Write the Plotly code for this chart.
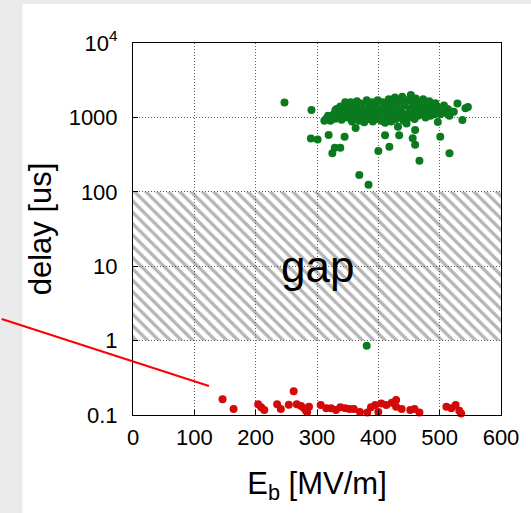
import plotly.graph_objects as go

# ---------------- data ----------------
green_e = [247, 291, 290, 301, 319, 345, 325, 329, 338, 363, 369, 384, 400, 411, 418, 434, 456, 460, 460,
           467, 497, 501, 516, 537, 529, 546, 523, 542, 381, 432, 446,
           312, 315, 318, 322, 325, 328, 330, 333, 336, 338, 340, 342, 345, 347, 349, 351, 353, 355, 357,
           359, 361, 363, 365, 367, 369, 371, 373, 375, 377, 379, 381, 383, 385, 387, 389, 391, 393, 395,
           397, 399, 401, 403, 405, 407, 409, 411, 413, 415, 417, 419, 421, 423, 425, 427, 429, 431, 433,
           435, 437, 439, 441, 443, 445, 447, 449, 451, 453, 455, 457, 459, 461, 463, 465, 467, 469, 471,
           473, 475, 477, 479, 481, 483, 485, 487, 489, 491, 493, 495, 498, 501, 504, 507, 510, 513, 516,
           519, 332, 346, 358, 370, 382, 394, 406, 418, 430, 442, 454, 466, 478, 490, 502, 326, 350, 374,
           398, 422, 448, 472, 496,
           320, 330, 350, 370, 390, 410, 430, 450, 470, 490, 505, 360, 400, 440, 480, 380, 420, 460, 500, 345]
green_delay = [1590, 1260, 520, 505, 580, 551, 330, 392, 392, 720, 168, 124, 353, 574, 403, 575, 524, 676, 430,
               262, 870, 551, 330, 923, 1540, 1380, 1190, 1330, 0.85, 750, 830,
               900, 960, 1050, 900, 1000, 1120, 960, 1200, 1050, 1400, 930, 1150, 1250, 1480, 1000, 1300, 1100, 1600, 880,
               1200, 1450, 1000, 1650, 1150, 900, 1300, 1500, 1050, 860, 1250, 1700, 950, 1400, 1100, 1550, 880, 1200, 1450,
               950, 1700, 1050, 1300, 900, 1600, 1150, 850, 1400, 1000, 1750, 1250, 880, 1500, 1100, 1850, 950, 1350, 1650,
               1050, 1200, 1900, 900, 1450, 1100, 1700, 1000, 1300, 2000, 1150, 1550, 950, 1800, 1250, 1050, 1600, 1400, 1100,
               1750, 1300, 1000, 1500, 1200, 1650, 1050, 1400, 1300, 1100, 1550, 1200, 1350, 1100, 1250, 1450, 1150, 1300, 1050,
               1200, 1300, 1600, 1350, 1450, 1200, 1350, 1250, 1450, 1550, 1650, 1350, 1500, 1300, 1400, 1250, 1000, 1050, 950,
               1000, 1050, 1000, 1150, 1150,
               1000, 1250, 1350, 1550, 1600, 1500, 1600, 1700, 1550, 1450, 1300, 950, 1000, 1000, 1100, 1050, 1200, 1250, 1150, 1100]

red_e = [146, 164, 204, 209, 214, 235, 241, 262, 254, 267, 274, 279, 287, 282, 284,
         306, 315, 323, 331, 338, 346, 353, 360, 370, 382, 388, 395, 400, 405, 413, 422, 429, 429,
         438, 452, 459, 467, 511, 519, 526, 532, 535]
red_delay = [0.163, 0.12, 0.139, 0.127, 0.117, 0.139, 0.12, 0.208, 0.137, 0.139, 0.132, 0.123, 0.129, 0.114, 0.11,
             0.136, 0.123, 0.123, 0.117, 0.127, 0.123, 0.12, 0.12, 0.11, 0.108, 0.127, 0.136, 0.11, 0.143, 0.136,
             0.146, 0.159, 0.129, 0.12, 0.117, 0.12, 0.108, 0.129, 0.123, 0.136, 0.114, 0.105]

gap_e = [0, 600, 600, 0, 0]
gap_delay = [1, 1, 100, 100, 1]

x_ticks = [0, 100, 200, 300, 400, 500, 600]
y_ticks = [0.1, 1, 10, 100, 1000, 10000]
y_ticktext = ["0.1", "1", "10", "100", "1000", "10<sup>4</sup>"]

GREEN = "#0b7a1f"
RED = "#d40a0a"
FONT = "Liberation Sans, Arial, sans-serif"

fig = go.Figure()

fig.add_trace(go.Scatter(
    x=gap_e, y=gap_delay, mode="lines", fill="toself",
    line=dict(width=0, color="rgba(0,0,0,0)"),
    fillcolor="#6c6c6c",
    fillpattern=dict(shape="\\", size=8, solidity=0.42, fgcolor="#6c6c6c", bgcolor="rgba(255,255,255,0)"),
    hoverinfo="skip", showlegend=False))

fig.add_trace(go.Scatter(
    x=green_e, y=green_delay, mode="markers",
    marker=dict(size=8, color=GREEN, line=dict(width=0)),
    cliponaxis=False, showlegend=False))

fig.add_trace(go.Scatter(
    x=red_e, y=red_delay, mode="markers",
    marker=dict(size=8, color=RED, line=dict(width=0)),
    cliponaxis=False, showlegend=False))

W, H = 531, 513
L, R, T, B = 133, 25, 43, 98
pw, ph = W - L - R, H - T - B


def px(x):
    return (x - L) / pw


def py(y):
    return (H - B - y) / ph


# white panel over the grey page
fig.add_shape(type="rect", xref="paper", yref="paper",
              x0=px(21), x1=px(540), y0=py(520), y1=py(4),
              fillcolor="white", line=dict(width=0), layer="below")

# red pointer line
fig.add_shape(type="line", xref="paper", yref="paper",
              x0=px(0), y0=py(319), x1=px(210), y1=py(386),
              line=dict(color="#ff0000", width=2), layer="above")

fig.add_annotation(x=300, y=1.0, xref="x", yref="y", text="gap", showarrow=False,
                   font=dict(family=FONT, size=44, color="black"),
                   xanchor="center", yanchor="middle")

fig.update_layout(
    width=W, height=H,
    margin=dict(l=L, r=R, t=T, b=B),
    paper_bgcolor="#ebebeb", plot_bgcolor="white",
    font=dict(family=FONT, color="black"),
    showlegend=False,
)

GRID = "#606060"
DASH = "1px,2px"

fig.update_xaxes(
    range=[0, 600], tickvals=x_ticks, ticks="inside", ticklen=5, tickcolor="black",
    showline=True, linecolor="black", linewidth=1, mirror=True,
    showgrid=True, gridcolor=GRID, griddash=DASH, gridwidth=1, zeroline=False,
    tickfont=dict(size=22, family=FONT), ticklabelstandoff=3,
    title=dict(text="E<sub>b</sub> [MV/m]", font=dict(size=31, family=FONT), standoff=22),
)
fig.update_yaxes(
    type="log", range=[-1, 4], tickvals=y_ticks, ticktext=y_ticktext,
    ticks="inside", ticklen=5, tickcolor="black",
    showline=True, linecolor="black", linewidth=1, mirror=True,
    showgrid=True, gridcolor=GRID, griddash=DASH, gridwidth=1, zeroline=False,
    tickfont=dict(size=22, family=FONT), ticklabelstandoff=10,
    title=dict(text="delay [us]", font=dict(size=31, family=FONT), standoff=7),
)

fig.write_html("out.html")
